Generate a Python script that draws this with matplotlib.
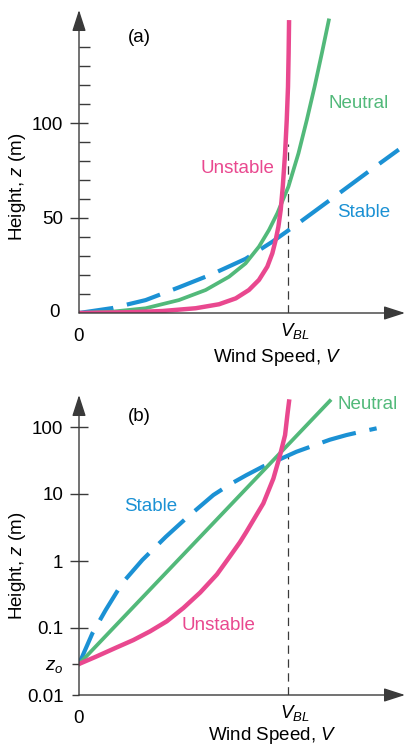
import numpy as np
import matplotlib
matplotlib.use("Agg")
import matplotlib.pyplot as plt

plt.rcParams["font.family"] = ["Liberation Sans", "DejaVu Sans"]
plt.rcParams["mathtext.fontset"] = "custom"
plt.rcParams["mathtext.it"] = "Liberation Sans:italic"
plt.rcParams["mathtext.rm"] = "Liberation Sans"
plt.rcParams["lines.scale_dashes"] = False

# wind speed in units of V_BL, height in m
# panel (a): linear height axis
unstable_a_v = [0.0, 0.24, 0.40, 0.558, 0.67, 0.75, 0.813, 0.861, 0.901, 0.925, 0.941,
                0.954, 0.965, 0.975, 0.986, 0.994, 1.0, 1.003, 1.005]
unstable_a_z = [0.0, 0.4, 1.05, 2.5, 4.6, 7.7, 12.1, 17.4, 24.4, 31.4, 38.4,
                45.4, 54.2, 66.5, 84, 101.6, 119, 136.7, 153]
neutral_a_v = [0.0, 0.16, 0.319, 0.478, 0.606, 0.718, 0.797, 0.861, 0.909, 0.949,
               1.002, 1.05, 1.09, 1.127, 1.162, 1.195]
neutral_a_z = [0.0, 0.7, 2.5, 6.8, 12.1, 19.1, 26.1, 34.9, 43.7, 52.5,
               66.5, 84, 101.6, 119, 136.7, 154]
stable_a_v = [0.0, 0.16, 0.319, 0.478, 0.638, 0.797, 0.925, 1.053, 1.22, 1.38, 1.53]
stable_a_z = [0.0, 2.6, 6.8, 13.5, 20.5, 28.5, 37.5, 47.5, 61, 74, 86]

# panel (b): log height axis (log10 of z)
z0 = 0.029
unstable_b_v = [0.0, 0.08, 0.18, 0.26, 0.34, 0.42, 0.50, 0.58, 0.66, 0.72, 0.77, 0.80,
                0.84, 0.882, 0.93, 0.962, 0.986, 0.997, 1.005]
unstable_b_logz = [-1.537, -1.43, -1.29, -1.18, -1.05, -0.90, -0.70, -0.47, -0.20, 0.06,
                   0.28, 0.43, 0.64, 0.86, 1.23, 1.58, 1.88, 2.18, 2.38]
neutral_b_v = [0.0, 1.20]
neutral_b_z = [z0, 245]
stable_b_v = [0.0, 0.064, 0.128, 0.207, 0.303, 0.415, 0.51, 0.643, 0.72, 0.80, 0.88,
              0.962, 1.04, 1.12, 1.20, 1.28, 1.35, 1.424]
stable_b_logz = [-1.537, -1.08, -0.73, -0.33, 0.015, 0.36, 0.63, 0.985, 1.14, 1.28, 1.41,
                 1.52, 1.63, 1.72, 1.81, 1.88, 1.93, 1.98]

v_bl = 1.0
vbl_line_top = [89, 40]

pink = "#e9488f"
green = "#52b97a"
blue = "#1b91d4"
axis_col = "#3a3a3a"
FS = 13.5

fig = plt.figure(figsize=(4.06, 7.46), dpi=100)
W, H = 406, 746


def make_axes(left, top, right, bottom):
    return fig.add_axes([left / W, (H - bottom) / H, (right - left) / W, (bottom - top) / H])


def draw_frame(ax):
    for s in ax.spines.values():
        s.set_visible(False)
    kw = dict(arrowstyle="-|>,head_length=1.3,head_width=0.42", color=axis_col,
              lw=1.0, shrinkA=0, shrinkB=0, mutation_scale=10)
    ax.annotate("", xy=(1, 0), xytext=(0, 0), xycoords="axes fraction", arrowprops=kw)
    ax.annotate("", xy=(0, 1), xytext=(0, 0), xycoords="axes fraction", arrowprops=kw)
    ax.set_xticks([])
    ax.tick_params(axis="y", which="major", direction="inout", length=13, width=1.0,
                   color=axis_col, labelsize=FS, pad=5)
    ax.tick_params(axis="y", which="minor", direction="in", length=8, width=1.0,
                   color=axis_col, labelsize=FS, pad=3)
    ax.patch.set_visible(False)


def x_labels(ax):
    ax.annotate("0", xy=(0, 0), xycoords=("data", "axes fraction"), xytext=(0, -17),
                textcoords="offset points", ha="center", va="center", fontsize=FS)
    ax.annotate("$V_{BL}$", xy=(v_bl, 0), xycoords=("data", "axes fraction"), xytext=(5, -13),
                textcoords="offset points", ha="center", va="center", fontsize=FS)


# ---- panel (a)
ax1 = make_axes(79, 10, 405, 313)
ax1.set_xlim(0, 326 / 209)
ax1.set_ylim(0, 303 / 1.9)
draw_frame(ax1)
ax1.set_yticks([50, 100])
ax1.set_yticks([z for z in range(10, 150, 10) if z not in (50, 100)], minor=True)
ax1.yaxis.set_minor_formatter(plt.NullFormatter())
ax1.text(-0.06, 0, "0", transform=ax1.get_yaxis_transform(), ha="right", va="center", fontsize=FS)
ax1.plot([v_bl, v_bl], [0, vbl_line_top[0]], color=axis_col, lw=0.9, dashes=(6, 4))
ax1.plot(stable_a_v, stable_a_z, color=blue, lw=3.0, dashes=(25, 10), solid_capstyle="butt")
ax1.plot(neutral_a_v, neutral_a_z, color=green, lw=2.7, solid_joinstyle="round")
ax1.plot(unstable_a_v, unstable_a_z, color=pink, lw=3.2, solid_joinstyle="round")
ax1.text(0.287, 145, "(a)", ha="center", va="center", fontsize=FS)
ax1.text(1.34, 110.5, "Neutral", color=green, ha="center", va="center", fontsize=FS)
ax1.text(0.756, 75.8, "Unstable", color=pink, ha="center", va="center", fontsize=FS)
ax1.text(1.36, 53, "Stable", color=blue, ha="center", va="center", fontsize=FS)
x_labels(ax1)

# ---- panel (b)
ax2 = make_axes(79, 395, 405, 695)
ax2.set_yscale("log")
ax2.set_xlim(0, 326 / 209)
ax2.set_ylim(0.01, 10 ** (-2 + 300 / 67))
draw_frame(ax2)
ax2.set_yticks([0.1, 1, 10, 100], labels=["0.1", "1", "10", "100"])
ax2.set_yticks([0.01, z0], labels=["0.01", "$z_o$"], minor=True)
ax2.tick_params(axis="y", which="minor", direction="out", length=5, pad=6)
ax2.plot([v_bl, v_bl], [0.01, vbl_line_top[1]], color=axis_col, lw=0.9, dashes=(6, 4))
ax2.plot(stable_b_v, 10 ** np.array(stable_b_logz), color=blue, lw=3.0, dashes=(25, 10),
         solid_capstyle="butt", solid_joinstyle="round")
ax2.plot(neutral_b_v, neutral_b_z, color=green, lw=2.7)
ax2.plot(unstable_b_v, 10 ** np.array(unstable_b_logz), color=pink, lw=3.2, solid_joinstyle="round")
ax2.text(0.287, 145, "(b)", ha="center", va="center", fontsize=FS)
ax2.text(1.38, 214, "Neutral", color=green, ha="center", va="center", fontsize=FS)
ax2.text(0.344, 6.4, "Stable", color=blue, ha="center", va="center", fontsize=FS)
ax2.text(0.665, 0.108, "Unstable", color=pink, ha="center", va="center", fontsize=FS)
x_labels(ax2)

# axis titles
fig.text(18 / W, (H - 187) / H, "Height, $z$ (m)", rotation=90, ha="center", va="center", fontsize=FS)
fig.text(277 / W, (H - 358) / H, "Wind Speed, $V$", ha="center", va="center", fontsize=FS)
fig.text(18 / W, (H - 566) / H, "Height, $z$ (m)", rotation=90, ha="center", va="center", fontsize=FS)
fig.text(272 / W, (H - 735) / H, "Wind Speed, $V$", ha="center", va="center", fontsize=FS)

fig.savefig("out.png", dpi=100)
